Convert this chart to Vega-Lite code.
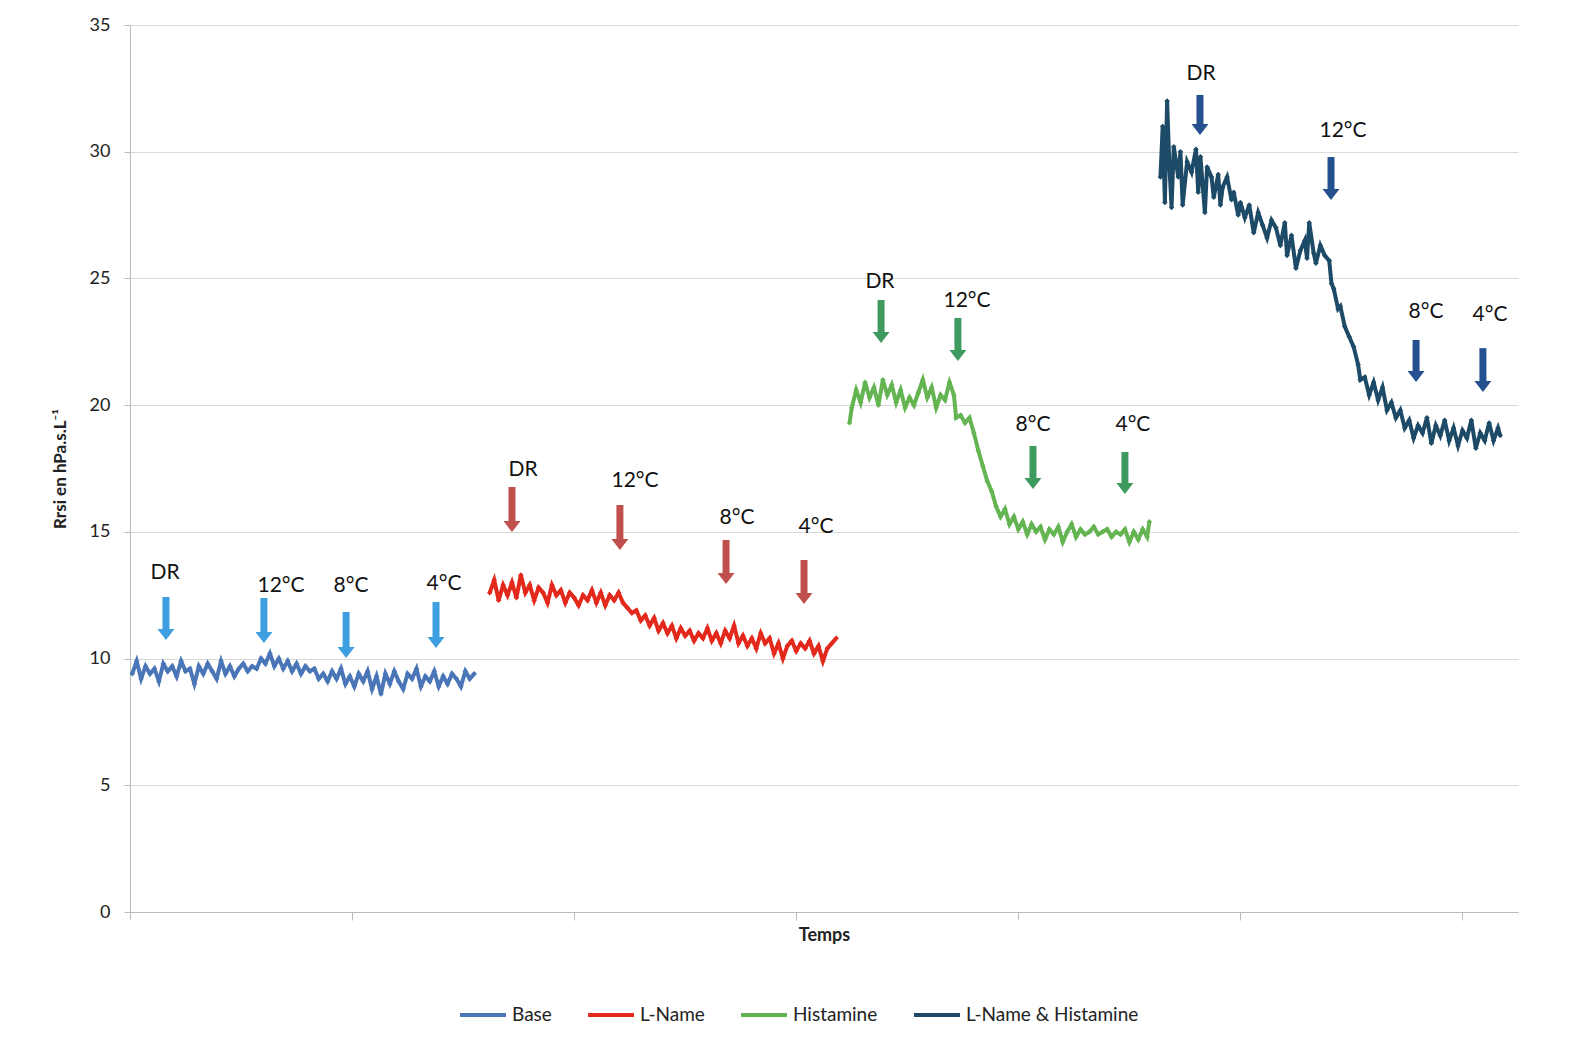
{
"$schema": "https://vega.github.io/schema/vega-lite/v6.json",
"width": 1388, "height": 887,
"autosize": {"type": "none"},
"padding": {"left": 130, "top": 25, "right": 60, "bottom": 130},
"background": "white",
"config": {"font": "Lato", "view": {"stroke": null}},
"datasets": {
"series": [
{"series":"Base","t":1,"rrsi":9.4},{"series":"Base","t":3,"rrsi":9.9},{"series":"Base","t":5,"rrsi":9.2},{"series":"Base","t":7,"rrsi":9.7},{"series":"Base","t":9,"rrsi":9.4},{"series":"Base","t":11,"rrsi":9.6},{"series":"Base","t":13,"rrsi":9.1},{"series":"Base","t":15,"rrsi":9.8},{"series":"Base","t":17,"rrsi":9.5},{"series":"Base","t":19,"rrsi":9.7},{"series":"Base","t":21,"rrsi":9.3},{"series":"Base","t":23,"rrsi":9.9},{"series":"Base","t":25,"rrsi":9.5},{"series":"Base","t":27,"rrsi":9.6},{"series":"Base","t":29,"rrsi":9.0},{"series":"Base","t":31,"rrsi":9.7},{"series":"Base","t":33,"rrsi":9.4},{"series":"Base","t":35,"rrsi":9.8},{"series":"Base","t":37,"rrsi":9.5},{"series":"Base","t":39,"rrsi":9.2},{"series":"Base","t":41,"rrsi":9.9},{"series":"Base","t":43,"rrsi":9.4},{"series":"Base","t":45,"rrsi":9.7},{"series":"Base","t":47,"rrsi":9.3},{"series":"Base","t":49,"rrsi":9.6},{"series":"Base","t":51,"rrsi":9.8},{"series":"Base","t":53,"rrsi":9.5},{"series":"Base","t":55,"rrsi":9.7},{"series":"Base","t":57,"rrsi":9.6},{"series":"Base","t":59,"rrsi":10.0},{"series":"Base","t":61,"rrsi":9.8},{"series":"Base","t":63,"rrsi":10.2},{"series":"Base","t":65,"rrsi":9.7},{"series":"Base","t":67,"rrsi":10.0},{"series":"Base","t":69,"rrsi":9.6},{"series":"Base","t":71,"rrsi":9.9},{"series":"Base","t":73,"rrsi":9.5},{"series":"Base","t":75,"rrsi":9.8},{"series":"Base","t":77,"rrsi":9.4},{"series":"Base","t":79,"rrsi":9.7},{"series":"Base","t":81,"rrsi":9.5},{"series":"Base","t":83,"rrsi":9.6},{"series":"Base","t":85,"rrsi":9.2},{"series":"Base","t":87,"rrsi":9.4},{"series":"Base","t":89,"rrsi":9.1},{"series":"Base","t":91,"rrsi":9.5},{"series":"Base","t":93,"rrsi":9.2},{"series":"Base","t":95,"rrsi":9.6},{"series":"Base","t":97,"rrsi":9.0},{"series":"Base","t":99,"rrsi":9.3},{"series":"Base","t":101,"rrsi":8.9},{"series":"Base","t":103,"rrsi":9.4},{"series":"Base","t":105,"rrsi":9.1},{"series":"Base","t":107,"rrsi":9.5},{"series":"Base","t":109,"rrsi":8.8},{"series":"Base","t":111,"rrsi":9.3},{"series":"Base","t":113,"rrsi":8.6},{"series":"Base","t":115,"rrsi":9.4},{"series":"Base","t":117,"rrsi":9.0},{"series":"Base","t":119,"rrsi":9.5},{"series":"Base","t":121,"rrsi":9.1},{"series":"Base","t":123,"rrsi":8.8},{"series":"Base","t":125,"rrsi":9.4},{"series":"Base","t":127,"rrsi":9.2},{"series":"Base","t":129,"rrsi":9.6},{"series":"Base","t":131,"rrsi":8.9},{"series":"Base","t":133,"rrsi":9.3},{"series":"Base","t":135,"rrsi":9.1},{"series":"Base","t":137,"rrsi":9.5},{"series":"Base","t":139,"rrsi":8.9},{"series":"Base","t":141,"rrsi":9.3},{"series":"Base","t":143,"rrsi":9.0},{"series":"Base","t":145,"rrsi":9.4},{"series":"Base","t":147,"rrsi":9.2},{"series":"Base","t":149,"rrsi":8.9},{"series":"Base","t":151,"rrsi":9.5},{"series":"Base","t":153,"rrsi":9.2},{"series":"Base","t":155,"rrsi":9.4},
{"series":"L-Name","t":162,"rrsi":12.6},{"series":"L-Name","t":164,"rrsi":13.1},{"series":"L-Name","t":166,"rrsi":12.3},{"series":"L-Name","t":168,"rrsi":12.9},{"series":"L-Name","t":170,"rrsi":12.5},{"series":"L-Name","t":172,"rrsi":13.0},{"series":"L-Name","t":174,"rrsi":12.4},{"series":"L-Name","t":176,"rrsi":13.3},{"series":"L-Name","t":178,"rrsi":12.6},{"series":"L-Name","t":180,"rrsi":12.9},{"series":"L-Name","t":182,"rrsi":12.3},{"series":"L-Name","t":184,"rrsi":12.8},{"series":"L-Name","t":186,"rrsi":12.6},{"series":"L-Name","t":188,"rrsi":12.2},{"series":"L-Name","t":190,"rrsi":12.9},{"series":"L-Name","t":192,"rrsi":12.5},{"series":"L-Name","t":194,"rrsi":12.7},{"series":"L-Name","t":196,"rrsi":12.2},{"series":"L-Name","t":198,"rrsi":12.6},{"series":"L-Name","t":200,"rrsi":12.4},{"series":"L-Name","t":202,"rrsi":12.1},{"series":"L-Name","t":204,"rrsi":12.5},{"series":"L-Name","t":206,"rrsi":12.3},{"series":"L-Name","t":208,"rrsi":12.7},{"series":"L-Name","t":210,"rrsi":12.2},{"series":"L-Name","t":212,"rrsi":12.6},{"series":"L-Name","t":214,"rrsi":12.1},{"series":"L-Name","t":216,"rrsi":12.5},{"series":"L-Name","t":218,"rrsi":12.3},{"series":"L-Name","t":220,"rrsi":12.6},{"series":"L-Name","t":222,"rrsi":12.2},{"series":"L-Name","t":224,"rrsi":12.0},{"series":"L-Name","t":226,"rrsi":11.8},{"series":"L-Name","t":228,"rrsi":11.9},{"series":"L-Name","t":230,"rrsi":11.5},{"series":"L-Name","t":232,"rrsi":11.7},{"series":"L-Name","t":234,"rrsi":11.3},{"series":"L-Name","t":236,"rrsi":11.6},{"series":"L-Name","t":238,"rrsi":11.1},{"series":"L-Name","t":240,"rrsi":11.4},{"series":"L-Name","t":242,"rrsi":11.0},{"series":"L-Name","t":244,"rrsi":11.3},{"series":"L-Name","t":246,"rrsi":10.8},{"series":"L-Name","t":248,"rrsi":11.2},{"series":"L-Name","t":250,"rrsi":10.9},{"series":"L-Name","t":252,"rrsi":11.1},{"series":"L-Name","t":254,"rrsi":10.7},{"series":"L-Name","t":256,"rrsi":11.0},{"series":"L-Name","t":258,"rrsi":10.8},{"series":"L-Name","t":260,"rrsi":11.2},{"series":"L-Name","t":262,"rrsi":10.7},{"series":"L-Name","t":264,"rrsi":11.0},{"series":"L-Name","t":266,"rrsi":10.6},{"series":"L-Name","t":268,"rrsi":11.1},{"series":"L-Name","t":270,"rrsi":10.8},{"series":"L-Name","t":272,"rrsi":11.3},{"series":"L-Name","t":274,"rrsi":10.6},{"series":"L-Name","t":276,"rrsi":10.9},{"series":"L-Name","t":278,"rrsi":10.5},{"series":"L-Name","t":280,"rrsi":10.8},{"series":"L-Name","t":282,"rrsi":10.4},{"series":"L-Name","t":284,"rrsi":11.0},{"series":"L-Name","t":286,"rrsi":10.6},{"series":"L-Name","t":288,"rrsi":10.8},{"series":"L-Name","t":290,"rrsi":10.2},{"series":"L-Name","t":292,"rrsi":10.6},{"series":"L-Name","t":294,"rrsi":10.0},{"series":"L-Name","t":296,"rrsi":10.5},{"series":"L-Name","t":298,"rrsi":10.7},{"series":"L-Name","t":300,"rrsi":10.3},{"series":"L-Name","t":302,"rrsi":10.6},{"series":"L-Name","t":304,"rrsi":10.4},{"series":"L-Name","t":306,"rrsi":10.7},{"series":"L-Name","t":308,"rrsi":10.2},{"series":"L-Name","t":310,"rrsi":10.5},{"series":"L-Name","t":312,"rrsi":9.9},{"series":"L-Name","t":314,"rrsi":10.4},{"series":"L-Name","t":316,"rrsi":10.6},{"series":"L-Name","t":318,"rrsi":10.8},
{"series":"Histamine","t":324,"rrsi":19.3},{"series":"Histamine","t":325,"rrsi":19.9},{"series":"Histamine","t":327,"rrsi":20.6},{"series":"Histamine","t":329,"rrsi":20.1},{"series":"Histamine","t":331,"rrsi":20.9},{"series":"Histamine","t":333,"rrsi":20.3},{"series":"Histamine","t":335,"rrsi":20.7},{"series":"Histamine","t":337,"rrsi":20.0},{"series":"Histamine","t":339,"rrsi":21.0},{"series":"Histamine","t":341,"rrsi":20.4},{"series":"Histamine","t":343,"rrsi":20.8},{"series":"Histamine","t":345,"rrsi":20.1},{"series":"Histamine","t":347,"rrsi":20.6},{"series":"Histamine","t":349,"rrsi":19.9},{"series":"Histamine","t":351,"rrsi":20.3},{"series":"Histamine","t":353,"rrsi":20.0},{"series":"Histamine","t":355,"rrsi":20.5},{"series":"Histamine","t":357,"rrsi":21.0},{"series":"Histamine","t":359,"rrsi":20.3},{"series":"Histamine","t":361,"rrsi":20.7},{"series":"Histamine","t":363,"rrsi":19.9},{"series":"Histamine","t":365,"rrsi":20.4},{"series":"Histamine","t":367,"rrsi":20.2},{"series":"Histamine","t":369,"rrsi":20.9},{"series":"Histamine","t":371,"rrsi":20.4},{"series":"Histamine","t":372,"rrsi":19.5},{"series":"Histamine","t":374,"rrsi":19.6},{"series":"Histamine","t":376,"rrsi":19.3},{"series":"Histamine","t":378,"rrsi":19.5},{"series":"Histamine","t":380,"rrsi":18.9},{"series":"Histamine","t":382,"rrsi":18.2},{"series":"Histamine","t":384,"rrsi":17.6},{"series":"Histamine","t":386,"rrsi":17.0},{"series":"Histamine","t":388,"rrsi":16.6},{"series":"Histamine","t":390,"rrsi":16.0},{"series":"Histamine","t":392,"rrsi":15.6},{"series":"Histamine","t":394,"rrsi":15.9},{"series":"Histamine","t":396,"rrsi":15.3},{"series":"Histamine","t":398,"rrsi":15.6},{"series":"Histamine","t":400,"rrsi":15.1},{"series":"Histamine","t":402,"rrsi":15.4},{"series":"Histamine","t":404,"rrsi":14.9},{"series":"Histamine","t":406,"rrsi":15.3},{"series":"Histamine","t":408,"rrsi":15.0},{"series":"Histamine","t":410,"rrsi":15.2},{"series":"Histamine","t":412,"rrsi":14.7},{"series":"Histamine","t":414,"rrsi":15.1},{"series":"Histamine","t":416,"rrsi":14.9},{"series":"Histamine","t":418,"rrsi":15.2},{"series":"Histamine","t":420,"rrsi":14.6},{"series":"Histamine","t":422,"rrsi":15.0},{"series":"Histamine","t":424,"rrsi":15.3},{"series":"Histamine","t":426,"rrsi":14.8},{"series":"Histamine","t":428,"rrsi":15.1},{"series":"Histamine","t":430,"rrsi":14.9},{"series":"Histamine","t":432,"rrsi":15.0},{"series":"Histamine","t":434,"rrsi":15.2},{"series":"Histamine","t":436,"rrsi":14.9},{"series":"Histamine","t":438,"rrsi":15.0},{"series":"Histamine","t":440,"rrsi":15.1},{"series":"Histamine","t":442,"rrsi":14.8},{"series":"Histamine","t":444,"rrsi":15.0},{"series":"Histamine","t":446,"rrsi":14.9},{"series":"Histamine","t":448,"rrsi":15.1},{"series":"Histamine","t":450,"rrsi":14.6},{"series":"Histamine","t":452,"rrsi":15.0},{"series":"Histamine","t":454,"rrsi":14.7},{"series":"Histamine","t":456,"rrsi":15.1},{"series":"Histamine","t":458,"rrsi":14.8},{"series":"Histamine","t":459,"rrsi":15.4},
{"series":"L-Name & Histamine","t":464,"rrsi":29.0},{"series":"L-Name & Histamine","t":465,"rrsi":31.0},{"series":"L-Name & Histamine","t":466,"rrsi":28.0},{"series":"L-Name & Histamine","t":467,"rrsi":32.0},{"series":"L-Name & Histamine","t":468,"rrsi":29.5},{"series":"L-Name & Histamine","t":469,"rrsi":27.8},{"series":"L-Name & Histamine","t":470,"rrsi":30.2},{"series":"L-Name & Histamine","t":472,"rrsi":29.0},{"series":"L-Name & Histamine","t":473,"rrsi":30.0},{"series":"L-Name & Histamine","t":474,"rrsi":27.9},{"series":"L-Name & Histamine","t":476,"rrsi":29.6},{"series":"L-Name & Histamine","t":478,"rrsi":29.2},{"series":"L-Name & Histamine","t":480,"rrsi":30.1},{"series":"L-Name & Histamine","t":481,"rrsi":28.4},{"series":"L-Name & Histamine","t":482,"rrsi":29.8},{"series":"L-Name & Histamine","t":484,"rrsi":27.6},{"series":"L-Name & Histamine","t":485,"rrsi":29.4},{"series":"L-Name & Histamine","t":487,"rrsi":29.0},{"series":"L-Name & Histamine","t":488,"rrsi":28.2},{"series":"L-Name & Histamine","t":490,"rrsi":29.1},{"series":"L-Name & Histamine","t":491,"rrsi":27.9},{"series":"L-Name & Histamine","t":492,"rrsi":28.6},{"series":"L-Name & Histamine","t":494,"rrsi":29.0},{"series":"L-Name & Histamine","t":496,"rrsi":28.1},{"series":"L-Name & Histamine","t":497,"rrsi":28.4},{"series":"L-Name & Histamine","t":499,"rrsi":27.5},{"series":"L-Name & Histamine","t":500,"rrsi":28.0},{"series":"L-Name & Histamine","t":502,"rrsi":27.4},{"series":"L-Name & Histamine","t":504,"rrsi":27.9},{"series":"L-Name & Histamine","t":506,"rrsi":26.8},{"series":"L-Name & Histamine","t":508,"rrsi":27.6},{"series":"L-Name & Histamine","t":510,"rrsi":27.1},{"series":"L-Name & Histamine","t":512,"rrsi":26.6},{"series":"L-Name & Histamine","t":514,"rrsi":27.3},{"series":"L-Name & Histamine","t":516,"rrsi":27.0},{"series":"L-Name & Histamine","t":518,"rrsi":26.3},{"series":"L-Name & Histamine","t":520,"rrsi":27.2},{"series":"L-Name & Histamine","t":521,"rrsi":25.9},{"series":"L-Name & Histamine","t":523,"rrsi":26.7},{"series":"L-Name & Histamine","t":525,"rrsi":25.4},{"series":"L-Name & Histamine","t":527,"rrsi":26.1},{"series":"L-Name & Histamine","t":529,"rrsi":26.5},{"series":"L-Name & Histamine","t":530,"rrsi":25.8},{"series":"L-Name & Histamine","t":531,"rrsi":27.2},{"series":"L-Name & Histamine","t":533,"rrsi":26.0},{"series":"L-Name & Histamine","t":534,"rrsi":25.6},{"series":"L-Name & Histamine","t":536,"rrsi":26.3},{"series":"L-Name & Histamine","t":538,"rrsi":25.9},{"series":"L-Name & Histamine","t":540,"rrsi":25.7},{"series":"L-Name & Histamine","t":541,"rrsi":24.8},{"series":"L-Name & Histamine","t":542,"rrsi":24.6},{"series":"L-Name & Histamine","t":544,"rrsi":23.8},{"series":"L-Name & Histamine","t":545,"rrsi":23.9},{"series":"L-Name & Histamine","t":547,"rrsi":23.1},{"series":"L-Name & Histamine","t":549,"rrsi":22.7},{"series":"L-Name & Histamine","t":551,"rrsi":22.3},{"series":"L-Name & Histamine","t":553,"rrsi":21.6},{"series":"L-Name & Histamine","t":554,"rrsi":21.0},{"series":"L-Name & Histamine","t":556,"rrsi":21.1},{"series":"L-Name & Histamine","t":558,"rrsi":20.4},{"series":"L-Name & Histamine","t":560,"rrsi":20.9},{"series":"L-Name & Histamine","t":562,"rrsi":20.2},{"series":"L-Name & Histamine","t":564,"rrsi":20.7},{"series":"L-Name & Histamine","t":566,"rrsi":19.8},{"series":"L-Name & Histamine","t":568,"rrsi":20.1},{"series":"L-Name & Histamine","t":570,"rrsi":19.5},{"series":"L-Name & Histamine","t":572,"rrsi":19.8},{"series":"L-Name & Histamine","t":574,"rrsi":19.1},{"series":"L-Name & Histamine","t":576,"rrsi":19.4},{"series":"L-Name & Histamine","t":578,"rrsi":18.7},{"series":"L-Name & Histamine","t":580,"rrsi":19.2},{"series":"L-Name & Histamine","t":582,"rrsi":18.9},{"series":"L-Name & Histamine","t":584,"rrsi":19.5},{"series":"L-Name & Histamine","t":586,"rrsi":18.5},{"series":"L-Name & Histamine","t":588,"rrsi":19.2},{"series":"L-Name & Histamine","t":590,"rrsi":18.8},{"series":"L-Name & Histamine","t":592,"rrsi":19.4},{"series":"L-Name & Histamine","t":594,"rrsi":18.6},{"series":"L-Name & Histamine","t":596,"rrsi":19.1},{"series":"L-Name & Histamine","t":598,"rrsi":18.4},{"series":"L-Name & Histamine","t":600,"rrsi":19.0},{"series":"L-Name & Histamine","t":602,"rrsi":18.7},{"series":"L-Name & Histamine","t":604,"rrsi":19.4},{"series":"L-Name & Histamine","t":606,"rrsi":18.3},{"series":"L-Name & Histamine","t":608,"rrsi":18.9},{"series":"L-Name & Histamine","t":610,"rrsi":18.6},{"series":"L-Name & Histamine","t":612,"rrsi":19.3},{"series":"L-Name & Histamine","t":614,"rrsi":18.6},{"series":"L-Name & Histamine","t":616,"rrsi":19.1},{"series":"L-Name & Histamine","t":617,"rrsi":18.8}
],
"arrows": [
{"group":"Base","label":"DR","x":16.2,"top":12.43,"base":11.16,"tip":10.73,"lx":15.8,"ly":13.38},
{"group":"Base","label":"12°C","x":60.3,"top":12.39,"base":11.04,"tip":10.61,"lx":68.0,"ly":12.86},
{"group":"Base","label":"8°C","x":97.3,"top":11.84,"base":10.45,"tip":10.02,"lx":99.5,"ly":12.86},
{"group":"Base","label":"4°C","x":137.8,"top":12.23,"base":10.85,"tip":10.42,"lx":141.4,"ly":12.94},
{"group":"L-Name","label":"DR","x":172.0,"top":16.77,"base":15.42,"tip":14.99,"lx":177.0,"ly":17.44},
{"group":"L-Name","label":"12°C","x":220.6,"top":16.06,"base":14.71,"tip":14.28,"lx":227.4,"ly":17.01},
{"group":"L-Name","label":"8°C","x":268.4,"top":14.68,"base":13.37,"tip":12.94,"lx":273.3,"ly":15.55},
{"group":"L-Name","label":"4°C","x":303.5,"top":13.89,"base":12.58,"tip":12.15,"lx":308.9,"ly":15.19},
{"group":"Histamine","label":"DR","x":338.2,"top":24.15,"base":22.88,"tip":22.45,"lx":337.7,"ly":24.86},
{"group":"Histamine","label":"12°C","x":372.8,"top":23.44,"base":22.17,"tip":21.74,"lx":376.9,"ly":24.11},
{"group":"Histamine","label":"8°C","x":406.6,"top":18.39,"base":17.12,"tip":16.69,"lx":406.6,"ly":19.22},
{"group":"Histamine","label":"4°C","x":448.0,"top":18.15,"base":16.92,"tip":16.49,"lx":451.6,"ly":19.22},
{"group":"L-Name & Histamine","label":"DR","x":481.8,"top":32.24,"base":31.09,"tip":30.66,"lx":482.3,"ly":33.07},
{"group":"L-Name & Histamine","label":"12°C","x":540.8,"top":29.79,"base":28.52,"tip":28.09,"lx":546.2,"ly":30.82},
{"group":"L-Name & Histamine","label":"8°C","x":579.1,"top":22.57,"base":21.34,"tip":20.91,"lx":583.6,"ly":23.68},
{"group":"L-Name & Histamine","label":"4°C","x":609.2,"top":22.25,"base":20.95,"tip":20.52,"lx":612.4,"ly":23.56}
]
},
"layer": [
{
"data": {"name": "series"},
"mark": {"type": "line", "strokeWidth": 4, "strokeJoin": "miter", "point": {"filled": true, "size": 30, "shape": "diamond"}},
"encoding": {
"x": {"field": "t", "type": "quantitative", "scale": {"domain": [0, 625], "nice": false, "zero": false},
"axis": {"title": "Temps", "titleFontSize": 18, "titleFontWeight": "bold", "titleColor": "#222", "titlePadding": 6, "labels": false, "values": [0, 100, 200, 300, 400, 500, 600], "tickSize": 8, "tickColor": "#bbbbbb", "domainColor": "#bbbbbb", "grid": false}},
"y": {"field": "rrsi", "type": "quantitative", "scale": {"domain": [0, 35], "nice": false},
"axis": {"title": "Rrsi en hPa.s.L⁻¹", "values": [0, 5, 10, 15, 20, 25, 30, 35], "grid": true, "gridColor": "#d9d9d9", "labelFontSize": 18, "labelColor": "#222", "labelPadding": 14, "tickSize": 6, "tickColor": "#bbbbbb", "domainColor": "#bbbbbb", "titleFontSize": 17, "titleFontWeight": "bold", "titleColor": "#222", "titlePadding": 20}},
"color": {"field": "series", "type": "nominal",
"scale": {"domain": ["Base", "L-Name", "Histamine", "L-Name & Histamine"], "range": ["#4a76b8", "#e3281c", "#64b552", "#1d4a66"]},
"legend": {"orient": "none", "legendX": 328, "legendY": 965, "direction": "horizontal", "title": null, "symbolType": "stroke", "symbolStrokeWidth": 4, "symbolSize": 2116, "labelFontSize": 19, "labelColor": "#222", "labelLimit": 0, "columnPadding": 28, "labelOffset": 4}}
}
},
{
"data": {"name": "arrows"},
"mark": {"type": "rule", "strokeWidth": 7, "strokeCap": "butt"},
"encoding": {
"x": {"field": "x", "type": "quantitative"},
"y": {"field": "top", "type": "quantitative"},
"y2": {"field": "base"},
"color": {"field": "group", "type": "nominal", "scale": {"domain": ["Base", "L-Name", "Histamine", "L-Name & Histamine"], "range": ["#3d9ee0", "#c0504d", "#3e9a5e", "#24508f"]}, "legend": null}
}
},
{
"data": {"name": "arrows"},
"mark": {"type": "point", "shape": "M-1,-1.3L1,-1.3L0,0Z", "filled": true, "size": 289, "opacity": 1},
"encoding": {
"x": {"field": "x", "type": "quantitative"},
"y": {"field": "tip", "type": "quantitative"},
"color": {"field": "group", "type": "nominal", "scale": {"domain": ["Base", "L-Name", "Histamine", "L-Name & Histamine"], "range": ["#3d9ee0", "#c0504d", "#3e9a5e", "#24508f"]}, "legend": null}
}
},
{
"data": {"name": "arrows"},
"mark": {"type": "text", "fontSize": 21, "color": "#111", "baseline": "middle", "align": "center"},
"encoding": {
"x": {"field": "lx", "type": "quantitative"},
"y": {"field": "ly", "type": "quantitative"},
"text": {"field": "label"}
}
}
],
"resolve": {"scale": {"color": "independent"}}
}
